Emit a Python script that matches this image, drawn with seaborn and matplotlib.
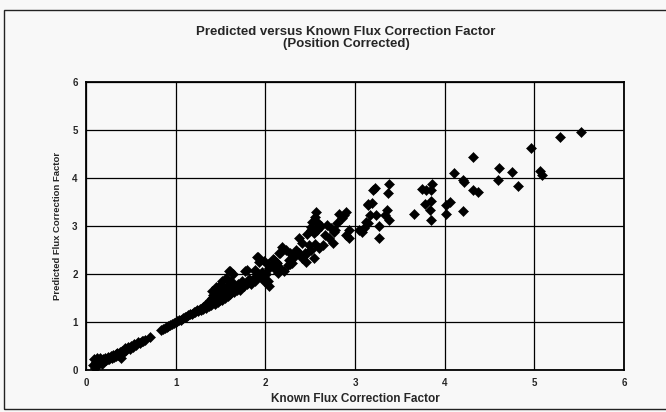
import numpy as np
import pandas as pd
import matplotlib
matplotlib.use("Agg")
import matplotlib.pyplot as plt
import seaborn as sns
from matplotlib.patches import Rectangle

# ---- data ----
known_low = [0.08, 0.09, 0.10, 0.11, 0.12, 0.13, 0.14, 0.15, 0.16, 0.17, 0.18, 0.19,
             0.20, 0.21, 0.22, 0.24, 0.25, 0.26, 0.28, 0.29, 0.30, 0.31, 0.33, 0.34,
             0.35, 0.36, 0.38, 0.39, 0.40, 0.42, 0.44, 0.45, 0.47, 0.49, 0.50, 0.52,
             0.54, 0.56, 0.58, 0.60, 0.62, 0.64, 0.66, 0.71]
pred_low = [0.10, 0.22, 0.05, 0.17, 0.26, 0.12, 0.20, 0.15, 0.24, 0.18, 0.13, 0.22,
            0.19, 0.25, 0.20, 0.23, 0.28, 0.22, 0.30, 0.25, 0.32, 0.27, 0.34, 0.29,
            0.36, 0.31, 0.38, 0.26, 0.40, 0.38, 0.45, 0.41, 0.47, 0.44, 0.51, 0.48,
            0.54, 0.52, 0.58, 0.56, 0.61, 0.60, 0.63, 0.68]

known_mid = [0.84, 0.86, 0.88, 0.90, 0.92, 0.94, 0.96, 0.98, 1.00, 1.02, 1.04, 1.06,
             1.08, 1.10, 1.12, 1.14, 1.16, 1.18, 1.20, 1.22, 1.24, 1.25, 1.27, 1.28,
             1.30, 1.31, 1.33, 1.34, 1.36, 1.37, 1.38, 1.39, 1.40, 1.41, 1.42, 1.43,
             1.44, 1.45, 1.46, 1.47, 1.48, 1.49, 1.50, 1.51, 1.52, 1.53, 1.54, 1.55,
             1.56, 1.57, 1.58, 1.59, 1.60, 1.61, 1.62, 1.63, 1.61, 1.65, 1.66, 1.68,
             1.70, 1.72, 1.74, 1.76, 1.79, 1.79, 1.82, 1.84, 1.86, 1.88, 1.88, 1.92,
             1.94, 1.96, 1.98, 2.00, 2.01, 2.04, 1.72, 1.60, 1.64, 1.77, 1.88, 1.41,
             1.45, 1.49, 1.52, 1.56, 1.71, 1.75, 1.82, 1.91, 1.97, 1.99, 1.91, 1.93]
pred_mid = [0.84, 0.86, 0.88, 0.89, 0.92, 0.93, 0.96, 0.97, 0.99, 1.02, 1.04, 1.05,
            1.08, 1.10, 1.11, 1.14, 1.16, 1.17, 1.21, 1.20, 1.25, 1.22, 1.28, 1.24,
            1.32, 1.27, 1.35, 1.30, 1.38, 1.33, 1.45, 1.36, 1.50, 1.40, 1.56, 1.43,
            1.38, 1.60, 1.48, 1.42, 1.55, 1.46, 1.62, 1.52, 1.45, 1.68, 1.57, 1.50,
            1.72, 1.62, 1.55, 1.78, 1.66, 1.58, 1.85, 1.70, 2.06, 1.62, 1.75, 1.66,
            1.80, 1.70, 1.85, 1.75, 2.08, 1.80, 1.88, 1.80, 1.90, 1.85, 2.08, 2.36,
            1.95, 2.05, 1.88, 2.00, 1.84, 1.75, 1.67, 2.06, 2.01, 2.06, 2.06, 1.65,
            1.72, 1.78, 1.85, 1.92, 1.72, 1.82, 1.89, 1.96, 1.92, 1.85, 2.35, 2.24]

known_high = [1.99, 2.03, 2.04, 2.01, 2.03, 2.08, 2.12, 2.16, 2.14, 2.21, 2.27, 2.16,
              2.27, 2.19, 2.23, 2.15, 2.34, 2.38, 2.32, 2.10, 2.13, 2.08, 2.12, 2.26,
              2.30, 2.25, 2.41, 2.45, 2.38, 2.41, 2.49, 2.51, 2.47, 2.54, 2.47, 2.51,
              2.55, 2.44, 2.56, 2.55, 2.58, 2.52, 2.60, 2.51, 2.58, 2.54, 2.62, 2.60,
              2.64, 2.69, 2.73, 2.77, 2.67, 2.71, 2.75, 2.90, 2.88, 2.86, 2.80, 2.78,
              2.93, 2.93, 2.90, 2.82, 3.04, 3.08, 3.10, 3.12, 3.14, 3.17, 3.14, 3.19,
              3.22, 3.20, 3.27, 3.27, 3.38, 3.37, 3.36, 3.34, 3.38, 3.15, 3.23, 3.66,
              3.75, 3.79, 3.85, 3.86, 3.85, 3.78, 3.84, 3.85, 4.02, 4.01, 4.06, 4.10,
              4.20, 4.21, 4.22, 4.32, 4.32, 4.37, 4.61, 4.60, 4.75, 4.82, 4.96, 5.06,
              5.09, 5.29, 5.52]
pred_high = [2.28, 2.20, 2.13, 1.99, 1.85, 2.31, 2.24, 2.13, 2.03, 2.06, 2.20, 2.44,
             2.44, 2.57, 2.50, 2.43, 2.50, 2.43, 2.36, 2.30, 2.23, 2.16, 2.09, 2.30,
             2.23, 2.19, 2.33, 2.26, 2.74, 2.64, 2.61, 2.50, 2.43, 2.33, 2.83, 2.97,
             2.62, 2.44, 3.30, 3.19, 3.09, 3.09, 3.02, 2.92, 2.92, 2.85, 2.99, 2.54,
             2.61, 3.02, 2.95, 2.88, 2.81, 2.74, 2.64, 3.30, 3.23, 3.16, 3.06, 2.92,
             2.92, 2.74, 2.81, 3.24, 2.92, 2.88, 2.95, 3.09, 3.06, 3.23, 3.46, 3.47,
             3.80, 3.76, 3.00, 2.74, 3.88, 3.68, 3.33, 3.23, 3.12, 3.43, 3.22, 3.25,
             3.78, 3.76, 3.76, 3.88, 3.53, 3.45, 3.34, 3.13, 3.25, 3.44, 3.51, 4.10,
             3.32, 3.95, 3.92, 4.43, 3.74, 3.71, 4.21, 3.95, 4.13, 3.83, 4.62, 4.15,
             4.07, 4.86, 4.95]

known = known_low + known_mid + known_high
predicted = pred_low + pred_mid + pred_high
df = pd.DataFrame({"Known": known, "Predicted": predicted})

sns.set_style("white")
plt.rcParams["font.family"] = ["Liberation Sans", "DejaVu Sans"]

BG = "#f8f8f8"
fig = plt.figure(figsize=(6.66, 4.12), dpi=100, facecolor=BG)
ax = fig.add_axes([86 / 666, 1 - 370 / 412, 538 / 666, 288 / 412])
ax.set_facecolor(BG)

sns.scatterplot(data=df, x="Known", y="Predicted", marker="D", s=26,
                color="black", edgecolor="black", linewidth=0.4, ax=ax, zorder=3)

ax.set_xlim(0, 6)
ax.set_ylim(0, 6)
ax.set_xticks(range(0, 7))
ax.set_yticks(range(0, 7))
ax.grid(True, color="black", linewidth=0.9, zorder=0)
ax.set_axisbelow(True)
for sp in ax.spines.values():
    sp.set_visible(True)
    sp.set_color("black")
    sp.set_linewidth(1.3)
ax.tick_params(length=0, labelsize=7, pad=6)
for lab in ax.get_xticklabels() + ax.get_yticklabels():
    lab.set_fontweight("bold")

ax.set_xlabel("Known Flux Correction Factor", fontsize=8.5, fontweight="bold", labelpad=3)
ax.set_ylabel("Predicted Flux Correction Factor", fontsize=6.8, fontweight="bold", labelpad=7)

fig.text(346 / 666, 1 - 32 / 412, "Predicted versus Known Flux Correction Factor",
         ha="center", va="center", fontsize=9.5, fontweight="bold")
fig.text(346 / 666, 1 - 44 / 412, "(Position Corrected)",
         ha="center", va="center", fontsize=9.5, fontweight="bold")

# chart area border from the scan
fig.patches.append(Rectangle((4 / 666, 1 - 409 / 412), 1.2, (409 - 10) / 412,
                             transform=fig.transFigure, fill=False,
                             edgecolor="#222222", linewidth=1.0))

fig.savefig("out.png", dpi=100, facecolor=BG)
